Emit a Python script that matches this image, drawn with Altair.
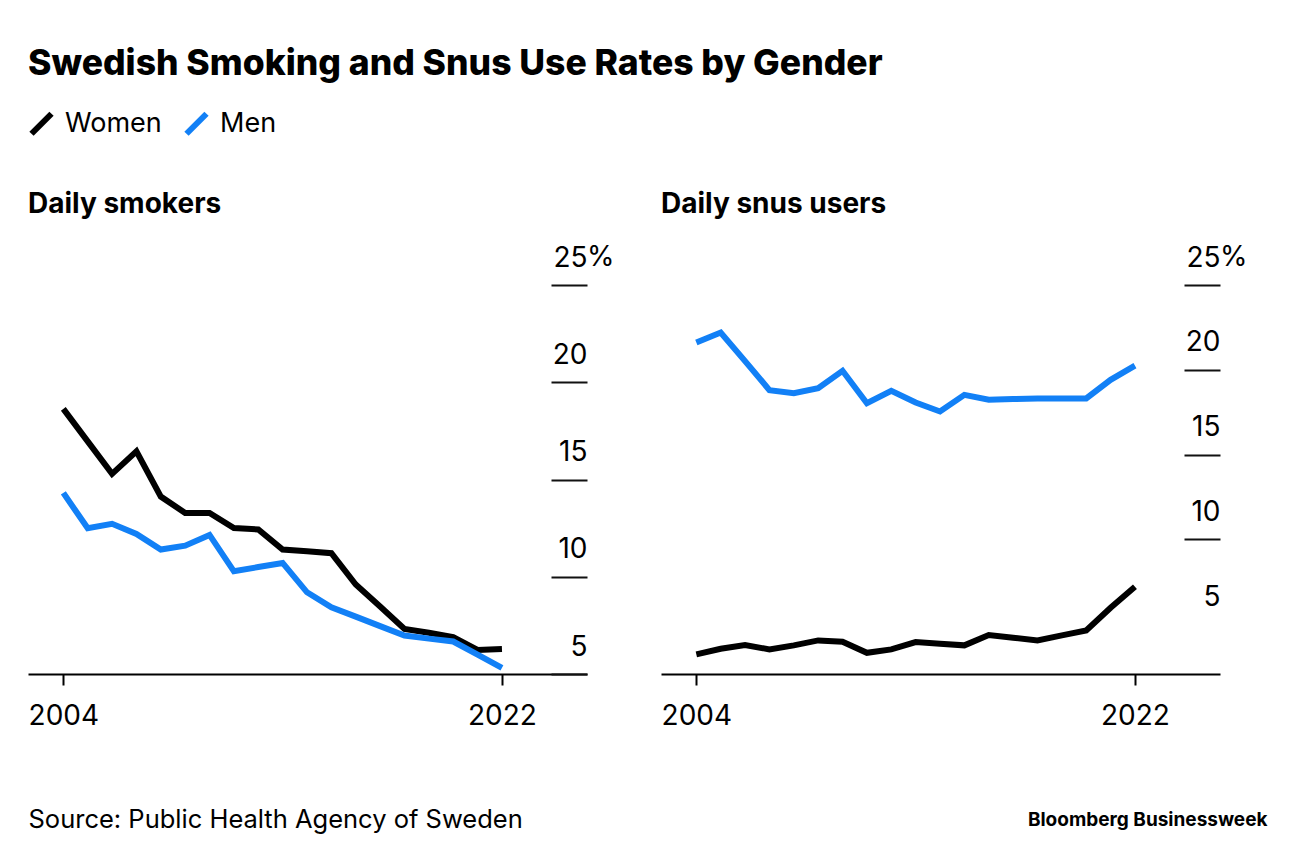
import altair as alt
import pandas as pd

years = list(range(2004, 2023))
smoke_women = [18.63, 16.96, 15.29, 16.45, 14.12, 13.28, 13.28, 12.51, 12.43, 11.40,
               11.31, 11.21, 9.60, 8.47, 7.32, 7.12, 6.89, 6.24, 6.29]
smoke_men = [14.31, 12.49, 12.72, 12.20, 11.40, 11.60, 12.15, 10.28, 10.50, 10.71,
             9.20, 8.43, 7.95, 7.46, 6.98, 6.82, 6.67, 6.00, 5.32]
snus_women = [3.22, 3.55, 3.77, 3.51, 3.75, 4.04, 3.96, 3.31, 3.51, 3.94,
              3.84, 3.75, 4.36, 4.20, 4.04, 4.34, 4.63, 5.97, 7.21]
snus_men = [21.61, 22.20, 20.51, 18.80, 18.62, 18.92, 19.94, 18.03, 18.76, 18.07,
            17.54, 18.52, 18.23, 18.27, 18.31, 18.31, 18.31, 19.41, 20.24]

genders = ["Women", "Men"]
colors = ["#000000", "#1280F6"]
y_ticks = [5, 10, 15, 20, 25]
x_ticks = [2004, 2022]

FONT = "Inter"
W = 559
H = 389


def long(women, men):
    rows = []
    for y, w, m in zip(years, women, men):
        rows.append({"year": y, "gender": "Women", "value": w})
        rows.append({"year": y, "gender": "Men", "value": m})
    return pd.DataFrame(rows)


def panel(df, title, ydomain, hide5, foot_text, foot_x, foot_align, foot_size, foot_weight):
    xs = alt.Scale(domain=[2002.55, 2025.49], nice=False)
    ys = alt.Scale(domain=ydomain, nice=False, zero=False)
    tick_op = {"condition": {"test": "datum.value == 5", "value": 0}, "value": 1} if hide5 else 1
    lines = alt.Chart(df).mark_line(strokeWidth=6).encode(
        x=alt.X("year:Q", scale=xs,
                axis=alt.Axis(values=x_ticks, format="d", grid=False, tickSize=11, tickWidth=2,
                              tickColor="#000", domainColor="#000", domainWidth=2,
                              labelFontSize=28, labelPadding=17, labelFlush=False,
                              labelColor="#000", labelFont=FONT,
                              title=foot_text, titleAnchor="start", titleAlign=foot_align,
                              titleX=foot_x, titleY=145, titleBaseline="middle",
                              titleFontSize=foot_size, titleFontWeight=foot_weight,
                              titleFont=FONT, titleColor="#000")),
        y=alt.Y("value:Q", scale=ys,
                axis=alt.Axis(orient="right", offset=-36, values=y_ticks, format="d",
                              tickSize=36, tickWidth=2, tickColor="#111", tickOpacity=tick_op,
                              domain=False, grid=False, labelAlign="right", labelPadding=0,
                              labelOffset=-27, labelBaseline="middle", labelFontSize=28,
                              labelFont=FONT, labelColor="#000", title=None)),
        color=alt.Color("gender:N", scale=alt.Scale(domain=genders, range=colors),
                        legend=alt.Legend(title=None, orient="top", direction="horizontal",
                                          symbolType="M-1,1L1,-1", symbolSize=400,
                                          symbolStrokeWidth=6, labelFontSize=27,
                                          labelFont=FONT, labelColor="#000",
                                          labelOffset=10, columnPadding=12, offset=45)),
        detail="gender:N",
    )
    pct = alt.Chart(pd.DataFrame({"v": [25], "t": ["%"]})).mark_text(
        align="left", baseline="middle", dy=-27, fontSize=28, font=FONT, color="#000"
    ).encode(x=alt.value(W), y=alt.Y("v:Q", scale=ys), text="t:N")
    return alt.layer(lines, pct).properties(
        width=W, height=H,
        title=alt.Title(title, anchor="start", frame="group", fontSize=28, fontWeight="bold",
                        font=FONT, color="#000", offset=25),
    )


left = panel(long(smoke_women, smoke_men), "Daily smokers", [5, 25], False,
             "Source: Public Health Agency of Sweden", 0, "left", 25.5, "normal")
right = panel(long(snus_women, snus_men), "Daily snus users", [2.06, 25], True,
              "Bloomberg Businessweek", 606, "right", 19, "bold")

chart = alt.hconcat(left, right, spacing=74, bounds="flush").properties(
    title=alt.Title("Swedish Smoking and Snus Use Rates by Gender", anchor="start",
                    fontSize=35.5, fontWeight=800, font=FONT, color="#000", offset=28),
    padding={"left": 20, "top": 38, "right": 10, "bottom": 10},
).configure(font=FONT).configure_view(stroke=None, strokeWidth=0)

chart.save("out.html", embed_options={"renderer": "svg", "actions": False})
